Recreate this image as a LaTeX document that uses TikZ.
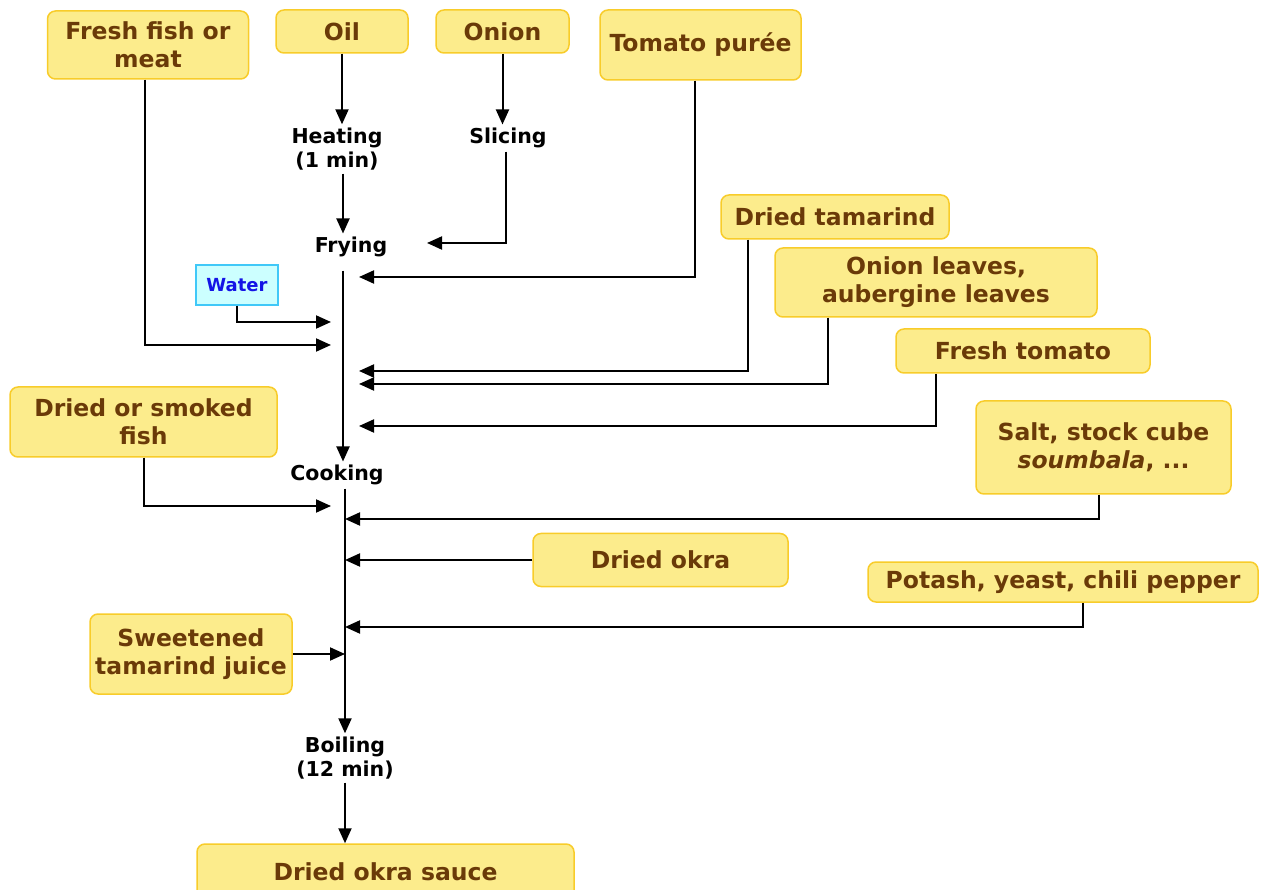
\documentclass[tikz,border=0pt]{standalone}
\usepackage{fontspec}
\setmainfont{DejaVu Sans}
\usetikzlibrary{arrows.meta}
\definecolor{boxfill}{HTML}{FCEC8C}
\definecolor{boxline}{HTML}{F8CC2A}
\definecolor{boxtext}{HTML}{6A3A08}
\definecolor{waterfill}{HTML}{CCFFFF}
\definecolor{waterline}{HTML}{40C8F8}
\definecolor{watertext}{HTML}{1414E6}
\begin{document}
\begin{tikzpicture}[x=1pt, y=-1pt,
  ingr/.style={draw=boxline, line width=1.5pt, fill=boxfill, rounded corners=8pt,
    text=boxtext, font=\fontsize{23.5}{28}\selectfont\bfseries, align=center, inner sep=0pt},
  stepname/.style={font=\fontsize{20.5}{24}\selectfont\bfseries, align=center},
  flow/.style={line width=2pt, -{Triangle[length=15pt,width=13pt]}},
  plain/.style={line width=2pt}]
  \useasboundingbox (0,0) rectangle (1262,890);

  \node[ingr, minimum width=201pt, minimum height=68pt] (fishmeat) at (148,45) {Fresh fish or\\meat};
  \node[ingr, minimum width=132pt, minimum height=43pt] (oil) at (342,31.5) {Oil};
  \node[ingr, minimum width=133pt, minimum height=43pt] (onion) at (502.5,31.5) {Onion};
  \node[ingr, minimum width=201pt, minimum height=70pt] (puree) at (700.5,45) {Tomato purée};
  \node[ingr, minimum width=228pt, minimum height=44pt] (tamarind) at (835,217) {Dried tamarind};
  \node[ingr, minimum width=322pt, minimum height=69pt] (leaves) at (936,282.5) {Onion leaves,\\aubergine leaves};
  \node[ingr, minimum width=254pt, minimum height=44pt] (tomato) at (1023,351) {Fresh tomato};
  \node[ingr, minimum width=267pt, minimum height=70pt] (smoked) at (143.5,422) {Dried or smoked\\fish};
  \node[ingr, minimum width=255pt, minimum height=93pt] (salt) at (1103.5,447.5) {Salt, stock cube\\\textit{soumbala}, ...};
  \node[ingr, minimum width=255pt, minimum height=53pt] (okra) at (660.5,560) {Dried okra};
  \node[ingr, minimum width=390pt, minimum height=40pt] (potash) at (1063,582) {Potash, yeast, chili pepper};
  \node[ingr, minimum width=202pt, minimum height=80pt] (juice) at (191,654) {Sweetened\\tamarind juice};
  \node[ingr, minimum width=377pt, minimum height=56pt] (sauce) at (385.5,872) {Dried okra sauce};
  \node[draw=waterline, line width=1.2pt, fill=waterfill, text=watertext, inner sep=0pt,
    font=\fontsize{18}{20}\selectfont\bfseries, minimum width=82pt, minimum height=40pt] (water) at (237,285) {Water};

  \node[stepname] (heating) at (337,149) {Heating\\(1 min)};
  \node[stepname] (slicing) at (508,138) {Slicing};
  \node[stepname] (frying) at (351,247) {Frying};
  \node[stepname] (cooking) at (337,475) {Cooking};
  \node[stepname] (boiling) at (345,758) {Boiling\\(12 min)};

  \coordinate (spineA) at (343,0);
  \coordinate (spineB) at (345,0);
  \coordinate (slicein) at (427,243);
  \coordinate (pureein) at (359,277);
  \coordinate (waterin) at (331,322);
  \coordinate (fishin) at (331,345);
  \coordinate (tamarindin) at (359,371);
  \coordinate (leavesin) at (359,384);
  \coordinate (tomatoin) at (359,426);
  \coordinate (smokedin) at (331,506);
  \coordinate (saltin) at (345,519);
  \coordinate (okrain) at (345,560);
  \coordinate (potashin) at (345,627);
  \coordinate (juicein) at (345,654);

  \draw[flow] (oil.south) -- (oil.south |- heating.north);
  \draw[flow] (onion.south) -- (onion.south |- slicing.north);
  \draw[flow] (heating.south -| spineA) -- (frying.north -| spineA);
  \draw[flow] ([xshift=-2pt]slicing.south) |- (slicein);
  \draw[flow] ([xshift=-6pt]puree.south) |- (pureein);
  \draw[flow, shorten <=10pt] (frying.south -| spineA) -- (cooking.north -| spineA);

  \draw[flow] (water.south) |- (waterin);
  \draw[flow] ([xshift=-3pt]fishmeat.south) |- (fishin);
  \draw[flow] ([xshift=-87pt]tamarind.south) |- (tamarindin);
  \draw[flow] ([xshift=-108pt]leaves.south) |- (leavesin);
  \draw[flow] ([xshift=-87pt]tomato.south) |- (tomatoin);

  \draw[flow] (smoked.south) |- (smokedin);
  \draw[flow] (cooking.south -| spineB) -- (boiling.north -| spineB);
  \draw[flow] ([xshift=-5pt]salt.south) |- (saltin);
  \draw[flow] (okra.west) -- (okrain);
  \draw[flow] ([xshift=20pt]potash.south) |- (potashin);
  \draw[flow] (juice.east) -- (juicein);
  \draw[flow] (boiling.south -| spineB) -- (sauce.north -| spineB);
\end{tikzpicture}
\end{document}
